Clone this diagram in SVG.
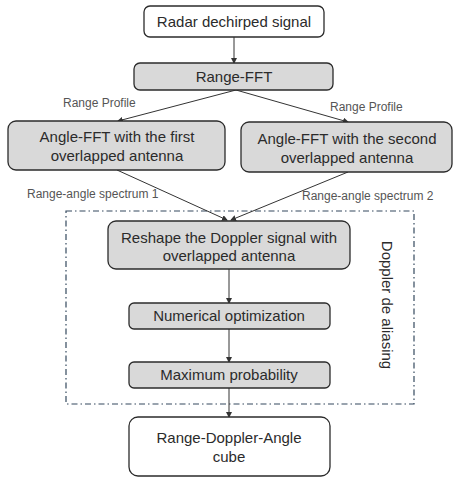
<svg xmlns="http://www.w3.org/2000/svg" width="453" height="478" viewBox="0 0 453 478">
<style>
.box{stroke:#2b2b2b;stroke-width:1.3}
.g{fill:#d9d9d9}
.w{fill:#ffffff}
.t{font-family:"Liberation Sans",Arial,sans-serif;font-size:15px;fill:#2b2b2b;text-anchor:middle}
.s{font-family:"Liberation Sans",Arial,sans-serif;font-size:12px;fill:#555555}
.c{stroke:#333333;stroke-width:1;fill:none;marker-end:url(#ah)}
</style>
<defs>
<marker id="ah" markerWidth="6" markerHeight="6" refX="5" refY="3" orient="auto" markerUnits="userSpaceOnUse">
<path d="M0,0 L6,3 L0,6 Z" fill="#333333"/>
</marker>
</defs>
<rect width="453" height="478" fill="#ffffff"/>
<g id="group-doppler">
<rect x="66" y="211" width="348" height="193" fill="none" stroke="#34495e" stroke-width="1.2" stroke-dasharray="6,3,1.5,3"/>
<text class="t" transform="translate(382,305) rotate(90)">Doppler de aliasing</text>
</g>
<g id="connectors">
<line class="c" x1="234" y1="37" x2="234" y2="63"/>
<line class="c" x1="236" y1="90" x2="118" y2="121"/>
<line class="c" x1="236" y1="90" x2="348" y2="122"/>
<line class="c" x1="117" y1="170" x2="227" y2="220"/>
<line class="c" x1="348" y1="172" x2="231" y2="220"/>
<line class="c" x1="229" y1="269" x2="229" y2="303"/>
<line class="c" x1="229" y1="329" x2="229" y2="362"/>
<line class="c" x1="229" y1="388" x2="229" y2="417"/>
<text class="s" x="63" y="107">Range Profile</text>
<text class="s" x="330" y="111">Range Profile</text>
<text class="s" x="27" y="198">Range-angle spectrum 1</text>
<text class="s" x="302" y="200">Range-angle spectrum 2</text>
</g>
<g id="node-radar">
<rect class="box w" x="144" y="6" width="180" height="31" rx="6"/>
<text class="t" x="234" y="27">Radar dechirped signal</text>
</g>
<g id="node-rangefft">
<rect class="box g" x="134" y="63" width="199" height="27" rx="6"/>
<text class="t" x="234" y="82">Range-FFT</text>
</g>
<g id="node-angle1">
<rect class="box g" x="8" y="121" width="217" height="49" rx="8"/>
<text class="t" x="117" y="142">Angle-FFT with the first</text>
<text class="t" x="117" y="161">overlapped antenna</text>
</g>
<g id="node-angle2">
<rect class="box g" x="241" y="122" width="211" height="50" rx="8"/>
<text class="t" x="347" y="144">Angle-FFT with the second</text>
<text class="t" x="347" y="163">overlapped antenna</text>
</g>
<g id="node-reshape">
<rect class="box g" x="108" y="221" width="242" height="48" rx="8"/>
<text class="t" x="229" y="243">Reshape the Doppler signal with</text>
<text class="t" x="229" y="261">overlapped antenna</text>
</g>
<g id="node-numerical">
<rect class="box g" x="129" y="303" width="201" height="26" rx="5"/>
<text class="t" x="229" y="321">Numerical optimization</text>
</g>
<g id="node-maxprob">
<rect class="box g" x="129" y="362" width="201" height="26" rx="5"/>
<text class="t" x="229" y="380">Maximum probability</text>
</g>
<g id="node-cube">
<rect class="box w" x="129" y="417" width="201" height="59" rx="9"/>
<text class="t" x="229" y="443">Range-Doppler-Angle</text>
<text class="t" x="229" y="462">cube</text>
</g>
</svg>
